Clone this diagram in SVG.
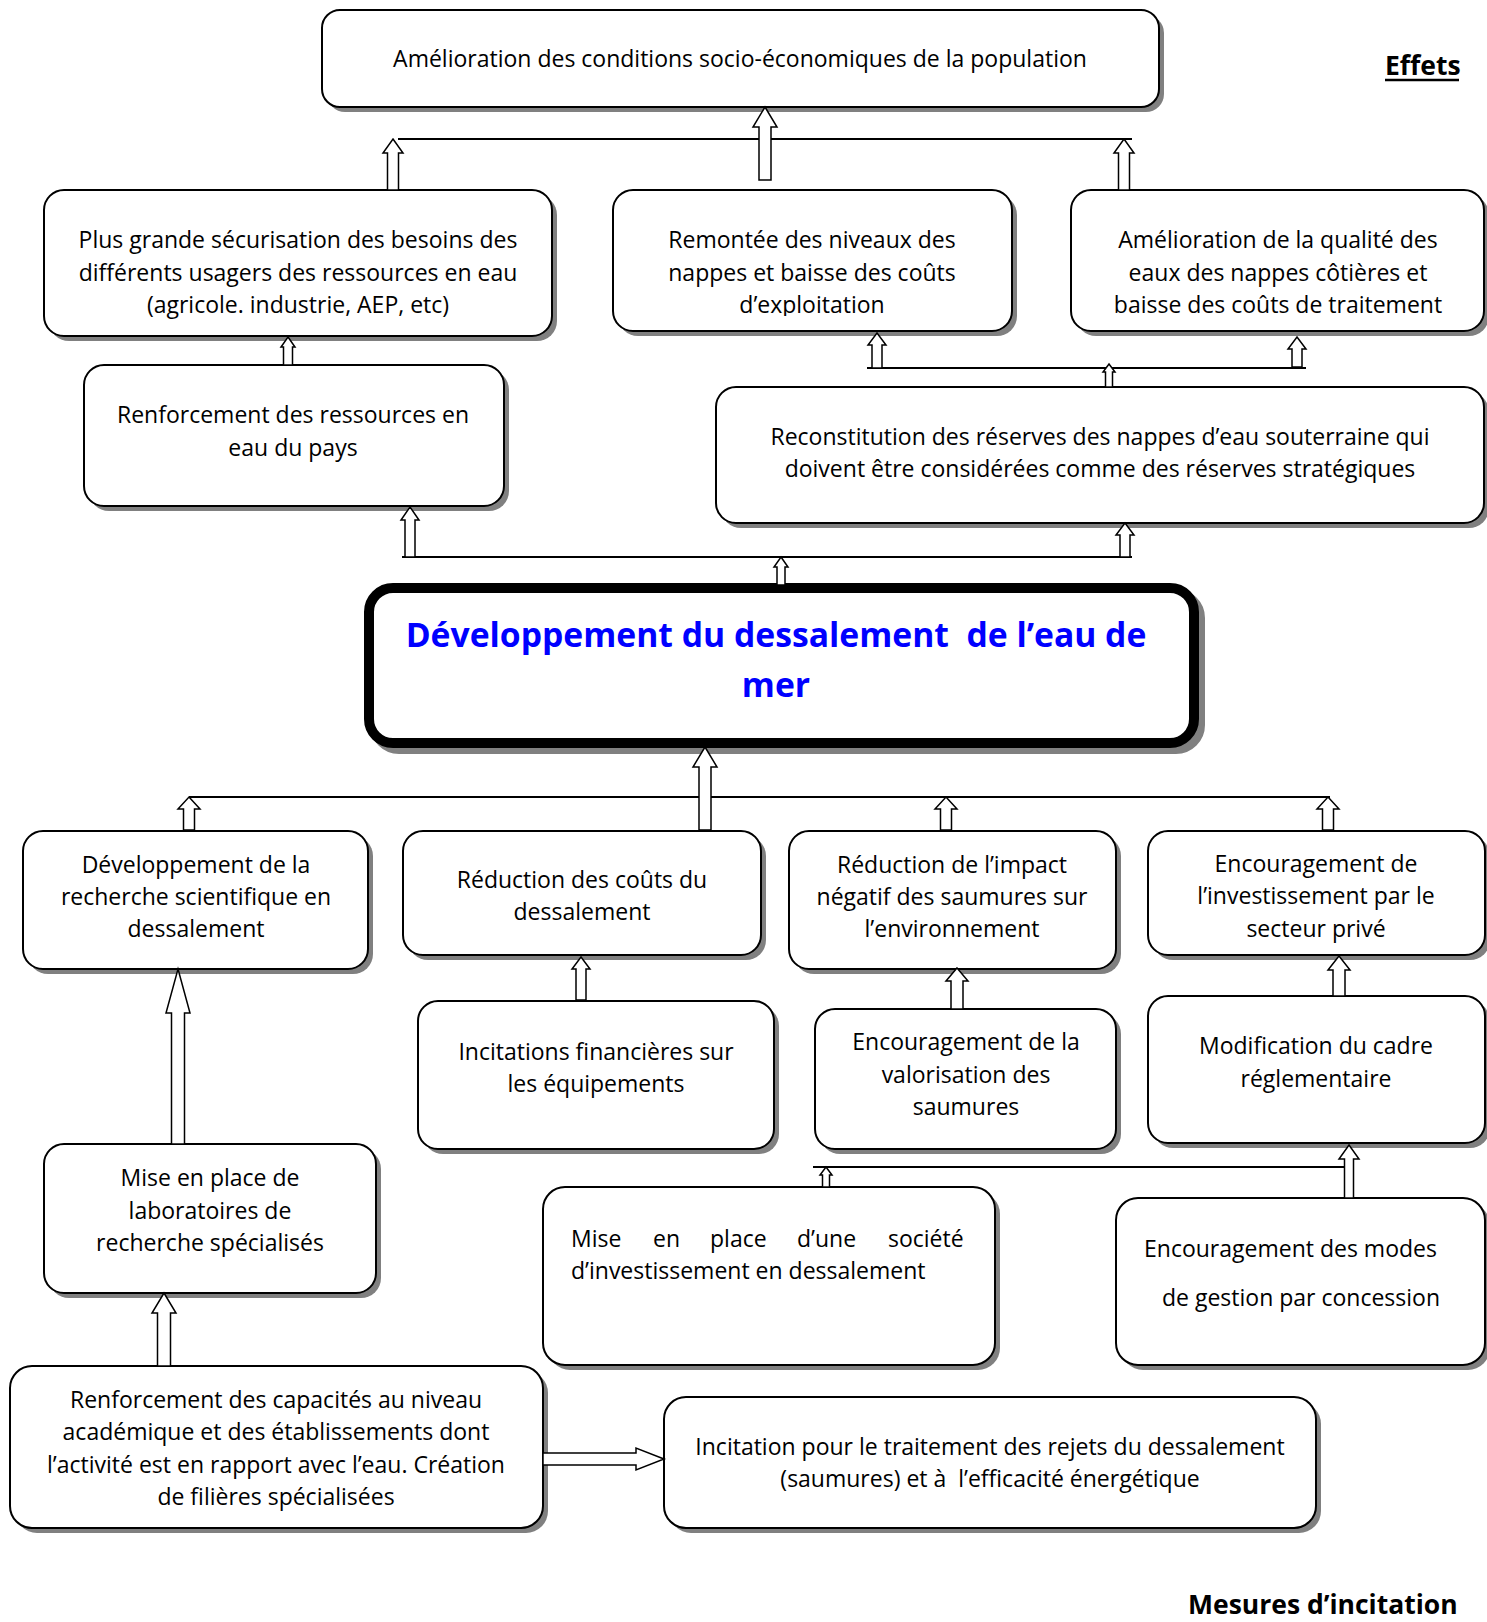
<svg xmlns="http://www.w3.org/2000/svg" width="1487" height="1622" viewBox="0 0 1487 1622">
<style>
.bx{fill:#fff;stroke:#000;stroke-width:2}
.sh{fill:#808080;stroke:none}
.t{font-family:"Open Sans",Lato,"Liberation Sans",sans-serif;font-size:23px;fill:#000;text-anchor:middle}
.tl{text-anchor:start}
.ar{fill:#fff;stroke:#000;stroke-width:1.5;stroke-linejoin:miter}
.ln{stroke:#000;stroke-width:2;fill:none}
.lab{font-family:"Open Sans",Lato,"Liberation Sans",sans-serif;font-size:26.5px;font-weight:bold;fill:#000}
.big{font-family:"Open Sans",Lato,"Liberation Sans",sans-serif;font-size:33.7px;font-weight:bold;fill:#0000ff;text-anchor:middle}
</style>
<defs>
<clipPath id="clipB"><rect x="613" y="190" width="399" height="126"/></clipPath>
</defs>
<rect width="1487" height="1622" fill="#fff"/>

<g id="n-top">
<rect class="sh" x="327" y="15" width="837" height="97" rx="18"/>
<rect class="bx" x="322" y="10" width="837" height="97" rx="18"/>
<text class="t" x="740" y="67">Amélioration des conditions socio-économiques de la population</text>
</g>

<g id="n-securisation">
<rect class="sh" x="49" y="195" width="508" height="146" rx="20"/>
<rect class="bx" x="44" y="190" width="508" height="146" rx="20"/>
<text class="t" x="298" y="248">Plus grande sécurisation des besoins des</text>
<text class="t" x="298" y="281">différents usagers des ressources en eau</text>
<text class="t" x="298" y="313">(agricole. industrie, AEP, etc)</text>
</g>

<g id="n-remontee">
<rect class="sh" x="618" y="195" width="399" height="141" rx="20"/>
<rect class="bx" x="613" y="190" width="399" height="141" rx="20"/>
<g clip-path="url(#clipB)">
<text class="t" x="812" y="248">Remontée des niveaux des</text>
<text class="t" x="812" y="281">nappes et baisse des coûts</text>
<text class="t" x="812" y="313">d’exploitation</text>
</g>
</g>

<g id="n-qualite">
<rect class="sh" x="1076" y="195" width="413" height="141" rx="20"/>
<rect class="bx" x="1071" y="190" width="413" height="141" rx="20"/>
<text class="t" x="1278" y="248">Amélioration de la qualité des</text>
<text class="t" x="1278" y="281">eaux des nappes côtières et</text>
<text class="t" x="1278" y="313">baisse des coûts de traitement</text>
</g>

<g id="n-renforcement-eau">
<rect class="sh" x="89" y="370" width="420" height="141" rx="20"/>
<rect class="bx" x="84" y="365" width="420" height="141" rx="20"/>
<text class="t" x="293" y="423">Renforcement des ressources en</text>
<text class="t" x="293" y="456">eau du pays</text>
</g>

<g id="n-reconstitution">
<rect class="sh" x="721" y="392" width="768" height="136" rx="20"/>
<rect class="bx" x="716" y="387" width="768" height="136" rx="20"/>
<text class="t" x="1100" y="445">Reconstitution des réserves des nappes d’eau souterraine qui</text>
<text class="t" x="1100" y="477">doivent être considérées comme des réserves stratégiques</text>
</g>

<g id="n-central">
<rect x="375" y="594" width="825" height="155" rx="24" style="fill:none;stroke:#808080;stroke-width:10"/>
<rect x="369" y="588" width="825" height="155" rx="24" style="fill:#fff;stroke:#000;stroke-width:10"/>
<text class="big" x="776" y="647" xml:space="preserve">Développement du dessalement  de l’eau de</text>
<text class="big" x="776" y="697">mer</text>
</g>

<g id="n-recherche">
<rect class="sh" x="28" y="836" width="345" height="138" rx="20"/>
<rect class="bx" x="23" y="831" width="345" height="138" rx="20"/>
<text class="t" x="196" y="873">Développement de la</text>
<text class="t" x="196" y="905">recherche scientifique en</text>
<text class="t" x="196" y="937">dessalement</text>
</g>

<g id="n-couts">
<rect class="sh" x="408" y="836" width="358" height="124" rx="20"/>
<rect class="bx" x="403" y="831" width="358" height="124" rx="20"/>
<text class="t" x="582" y="888">Réduction des coûts du</text>
<text class="t" x="582" y="920">dessalement</text>
</g>

<g id="n-impact">
<rect class="sh" x="794" y="836" width="327" height="138" rx="20"/>
<rect class="bx" x="789" y="831" width="327" height="138" rx="20"/>
<text class="t" x="952" y="873">Réduction de l’impact</text>
<text class="t" x="952" y="905">négatif des saumures sur</text>
<text class="t" x="952" y="937">l’environnement</text>
</g>

<g id="n-investissement">
<rect class="sh" x="1153" y="836" width="337" height="124" rx="20"/>
<rect class="bx" x="1148" y="831" width="337" height="124" rx="20"/>
<text class="t" x="1316" y="872">Encouragement de</text>
<text class="t" x="1316" y="904">l’investissement par le</text>
<text class="t" x="1316" y="937">secteur privé</text>
</g>

<g id="n-incitations-fin">
<rect class="sh" x="423" y="1006" width="356" height="148" rx="20"/>
<rect class="bx" x="418" y="1001" width="356" height="148" rx="20"/>
<text class="t" x="596" y="1060">Incitations financières sur</text>
<text class="t" x="596" y="1092">les équipements</text>
</g>

<g id="n-valorisation">
<rect class="sh" x="820" y="1014" width="301" height="140" rx="20"/>
<rect class="bx" x="815" y="1009" width="301" height="140" rx="20"/>
<text class="t" x="966" y="1050">Encouragement de la</text>
<text class="t" x="966" y="1083">valorisation des</text>
<text class="t" x="966" y="1115">saumures</text>
</g>

<g id="n-modification">
<rect class="sh" x="1153" y="1001" width="337" height="147" rx="20"/>
<rect class="bx" x="1148" y="996" width="337" height="147" rx="20"/>
<text class="t" x="1316" y="1054">Modification du cadre</text>
<text class="t" x="1316" y="1087">réglementaire</text>
</g>

<g id="n-labos">
<rect class="sh" x="49" y="1149" width="332" height="149" rx="20"/>
<rect class="bx" x="44" y="1144" width="332" height="149" rx="20"/>
<text class="t" x="210" y="1186">Mise en place de</text>
<text class="t" x="210" y="1219">laboratoires de</text>
<text class="t" x="210" y="1251">recherche spécialisés</text>
</g>

<g id="n-societe">
<rect class="sh" x="548" y="1192" width="452" height="178" rx="22"/>
<rect class="bx" x="543" y="1187" width="452" height="178" rx="22"/>
<text class="t tl" y="1247"><tspan x="571">Mise</tspan><tspan x="653">en</tspan><tspan x="710">place</tspan><tspan x="797">d’une</tspan><tspan x="888">société</tspan></text>
<text class="t tl" x="571" y="1279">d’investissement en dessalement</text>
</g>

<g id="n-modes">
<rect class="sh" x="1121" y="1203" width="369" height="167" rx="22"/>
<rect class="bx" x="1116" y="1198" width="369" height="167" rx="22"/>
<text class="t tl" x="1144" y="1257">Encouragement des modes</text>
<text class="t tl" x="1162" y="1306">de gestion par concession</text>
</g>

<g id="n-capacites">
<rect class="sh" x="15" y="1371" width="533" height="162" rx="22"/>
<rect class="bx" x="10" y="1366" width="533" height="162" rx="22"/>
<text class="t" x="276" y="1408">Renforcement des capacités au niveau</text>
<text class="t" x="276" y="1440">académique et des établissements dont</text>
<text class="t" x="276" y="1473">l’activité est en rapport avec l’eau. Création</text>
<text class="t" x="276" y="1505">de filières spécialisées</text>
</g>

<g id="n-traitement">
<rect class="sh" x="669" y="1402" width="652" height="131" rx="22"/>
<rect class="bx" x="664" y="1397" width="652" height="131" rx="22"/>
<text class="t" x="990" y="1455">Incitation pour le traitement des rejets du dessalement</text>
<text class="t" x="990" y="1487" xml:space="preserve">(saumures) et à  l’efficacité énergétique</text>
</g>

<g id="labels">
<text class="lab" x="1385" y="75">Effets</text>
<line x1="1385" y1="80" x2="1459" y2="80" stroke="#000" stroke-width="2.5"/>
<text class="lab" x="1188" y="1614">Mesures d’incitation</text>
</g>

<g id="connectors">
<line class="ln" x1="398" y1="139" x2="1132" y2="139"/>
<line class="ln" x1="867" y1="368" x2="1306" y2="368"/>
<line class="ln" x1="402" y1="557" x2="1132" y2="557"/>
<line class="ln" x1="189" y1="797" x2="1330" y2="797"/>
<line class="ln" x1="813" y1="1167" x2="1345" y2="1167"/>

<polygon class="ar" points="393,139 403,153 398.5,153 398.5,190 387.5,190 387.5,153 383,153"/>
<polygon class="ar" points="765,107 777,127 771,127 771,180 759,180 759,127 753,127"/>
<polygon class="ar" points="1124,139 1134,153 1129.5,153 1129.5,190 1118.5,190 1118.5,153 1114,153"/>
<polygon class="ar" points="288,337 295,347 292.5,347 292.5,365 283.5,365 283.5,347 281,347"/>
<polygon class="ar" points="410,507 419,520 415,520 415,557 405,557 405,520 401,520"/>
<polygon class="ar" points="1125,523 1134,535 1130,535 1130,557 1120,557 1120,535 1116,535"/>
<polygon class="ar" points="781,557 788,567 785,567 785,585 777,585 777,567 774,567"/>
<polygon class="ar" points="877,333 886,345 882,345 882,368 872,368 872,345 868,345"/>
<polygon class="ar" points="1297,337 1306,349 1302,349 1302,367 1292,367 1292,349 1288,349"/>
<polygon class="ar" points="1109,364 1115,372 1112.5,372 1112.5,387 1105.5,387 1105.5,372 1103,372"/>
<polygon class="ar" points="705,747 717,767 711,767 711,830 699,830 699,767 693,767"/>
<polygon class="ar" points="189,797 200,809 194.5,809 194.5,830 183.5,830 183.5,809 178,809"/>
<polygon class="ar" points="946,797 957,809 951.5,809 951.5,830 940.5,830 940.5,809 935,809"/>
<polygon class="ar" points="1328,797 1339,809 1333.5,809 1333.5,830 1322.5,830 1322.5,809 1317,809"/>
<polygon class="ar" points="581,957 590,969 586,969 586,1000 576,1000 576,969 572,969"/>
<polygon class="ar" points="178,969 190,1013 184.5,1013 184.5,1144 171.5,1144 171.5,1013 166,1013"/>
<polygon class="ar" points="957,968 968,981 963,981 963,1009 951,1009 951,981 946,981"/>
<polygon class="ar" points="1339,956 1350,970 1345,970 1345,996 1333,996 1333,970 1328,970"/>
<polygon class="ar" points="1349,1145 1359,1159 1353.5,1159 1353.5,1198 1344.5,1198 1344.5,1159 1339,1159"/>
<polygon class="ar" points="826,1167 832,1175 829.5,1175 829.5,1187 822.5,1187 822.5,1175 820,1175"/>
<polygon class="ar" points="164,1293 176,1313 170.5,1313 170.5,1366 157.5,1366 157.5,1313 152,1313"/>
<polygon class="ar" points="664,1459 636,1448 636,1453 543,1453 543,1465 636,1465 636,1470"/>
</g>
</svg>
